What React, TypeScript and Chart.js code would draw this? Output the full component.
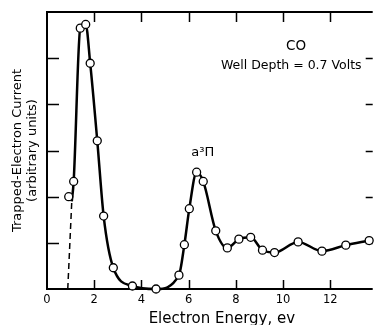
import React, { useEffect, useRef } from 'react';
import { Chart, registerables } from 'chart.js';

Chart.register(...registerables);

// Measured points (electron energy, eV) and trapped-electron current (arbitrary units)
const markerEnergy = [0.92, 1.13, 1.41, 1.64, 1.83, 2.13, 2.4, 2.81, 3.62, 4.62, 5.59, 5.82, 6.03, 6.34, 6.62, 7.15, 7.64, 8.13, 8.63, 9.13, 9.64, 10.64, 11.65, 12.66, 13.65];
const markerCurrent = [2.0, 2.33, 5.65, 5.73, 4.89, 3.21, 1.58, 0.46, 0.065, 0, 0.3, 0.96, 1.74, 2.53, 2.33, 1.26, 0.89, 1.08, 1.12, 0.84, 0.79, 1.02, 0.82, 0.95, 1.05];

// Solid fitted curve
const curveEnergy = [1.05, 1.13, 1.41, 1.64, 1.83, 2.13, 2.4, 2.81, 3.62, 4.62, 5.59, 5.82, 6.03, 6.34, 6.62, 7.15, 7.64, 8.13, 8.63, 9.13, 9.64, 10.64, 11.65, 12.66, 13.65];
const curveCurrent = [1.9, 2.33, 5.65, 5.73, 4.89, 3.21, 1.58, 0.46, 0.065, 0, 0.3, 0.96, 1.74, 2.53, 2.33, 1.26, 0.89, 1.08, 1.12, 0.84, 0.79, 1.02, 0.82, 0.95, 1.05];

// Dashed extrapolation to onset
const dashEnergy = [0.88, 1.05];
const dashCurrent = [0, 1.9];

const xTickValues = [0, 2, 4, 6, 8, 10, 12];
const yTickValues = [1, 2, 3, 4, 5];

const xTitle = 'Electron Energy, ev';
const yTitle = ['Trapped-Electron Current', '(arbitrary units)'];
const gasLabel = 'CO';
const wellLabel = 'Well Depth = 0.7 Volts';
const stateLabel = 'a³Π';

const FONT = "'DejaVu Sans', sans-serif";

const toXY = (xs: number[], ys: number[]) => xs.map((x, i) => ({ x, y: ys[i] }));

const framePlugin = {
  id: 'frame',
  beforeDatasetsDraw(chart: any) {
    const { ctx, chartArea, scales } = chart;
    const { left, right, top, bottom } = chartArea;
    ctx.save();
    ctx.strokeStyle = '#000';
    ctx.lineWidth = 2;
    ctx.beginPath();
    ctx.moveTo(right, top);
    ctx.lineTo(left, top);
    ctx.lineTo(left, bottom);
    ctx.lineTo(right, bottom);
    ctx.stroke();
    ctx.lineWidth = 1.5;
    ctx.beginPath();
    for (const v of xTickValues) {
      if (v === 0) continue;
      const px = Math.round(scales.x.getPixelForValue(v)) + 0.5;
      ctx.moveTo(px, bottom);
      ctx.lineTo(px, bottom - 9);
      ctx.moveTo(px, top);
      ctx.lineTo(px, top + 10);
    }
    for (const v of yTickValues) {
      const py = Math.round(scales.y.getPixelForValue(v)) + 0.5;
      ctx.moveTo(left, py);
      ctx.lineTo(left + 12, py);
      ctx.moveTo(right, py);
      ctx.lineTo(right - 7, py);
    }
    ctx.stroke();
    ctx.restore();
  },
  afterDraw(chart: any) {
    const { ctx, chartArea, scales } = chart;
    ctx.save();
    ctx.fillStyle = '#000';
    ctx.textAlign = 'center';
    ctx.textBaseline = 'middle';
    ctx.font = `13.5px ${FONT}`;
    ctx.fillText(gasLabel, scales.x.getPixelForValue(10.55), scales.y.getPixelForValue(5.26));
    ctx.font = `12.5px ${FONT}`;
    ctx.fillText(wellLabel, scales.x.getPixelForValue(10.35), scales.y.getPixelForValue(4.83));
    ctx.font = `13px ${FONT}`;
    ctx.fillText(stateLabel, scales.x.getPixelForValue(6.6), scales.y.getPixelForValue(2.95));
    ctx.font = `15px ${FONT}`;
    ctx.textBaseline = 'alphabetic';
    ctx.fillText(xTitle, (chartArea.left + chartArea.right) / 2 + 12, 323);
    ctx.restore();
  },
};

export default function App() {
  const ref = useRef<HTMLCanvasElement | null>(null);

  useEffect(() => {
    if (!ref.current) return;
    Chart.defaults.font.family = FONT;
    Chart.defaults.color = '#000';
    const chart = new Chart(ref.current, {
      type: 'line',
      data: {
        datasets: [
          {
            data: toXY(markerEnergy, markerCurrent),
            showLine: false,
            pointRadius: 4,
            pointBorderWidth: 1.3,
            pointBackgroundColor: '#fff',
            pointBorderColor: '#000',
            clip: false,
            order: 0,
          },
          {
            data: toXY(curveEnergy, curveCurrent),
            borderColor: '#000',
            borderWidth: 2.5,
            pointRadius: 0,
            cubicInterpolationMode: 'monotone',
            clip: false,
            order: 1,
          },
          {
            data: toXY(dashEnergy, dashCurrent),
            borderColor: '#000',
            borderWidth: 1.5,
            borderDash: [6, 4],
            pointRadius: 0,
            clip: false,
            order: 2,
          },
        ],
      } as any,
      options: {
        responsive: false,
        animation: false,
        events: [],
        layout: { padding: { top: 12, right: 0, left: 0, bottom: 0 } },
        plugins: { legend: { display: false }, tooltip: { enabled: false } },
        scales: {
          x: {
            type: 'linear',
            min: 0,
            max: 13.8,
            grid: { display: false, drawTicks: false },
            border: { display: false },
            ticks: { font: { size: 11.5 }, color: '#000', padding: 4, maxRotation: 0 },
            afterBuildTicks: (s: any) => {
              s.ticks = xTickValues.map((v) => ({ value: v }));
            },
            afterFit: (s: any) => {
              s.height = 36;
            },
          },
          y: {
            type: 'linear',
            min: 0,
            max: 6,
            grid: { display: false, drawTicks: false },
            border: { display: false },
            ticks: { display: false },
            afterBuildTicks: (s: any) => {
              s.ticks = yTickValues.map((v) => ({ value: v }));
            },
            title: {
              display: true,
              text: yTitle,
              color: '#000',
              font: { size: 13, lineHeight: 1.15 },
              padding: { top: 10, bottom: 0 },
            },
            afterFit: (s: any) => {
              s.width = 47;
            },
          },
        },
      } as any,
      plugins: [framePlugin],
    });
    return () => chart.destroy();
  }, []);

  return (
    <div style={{ position: 'fixed', left: 0, top: 0, width: 378, height: 325, background: '#fff' }}>
      <canvas ref={ref} width={378} height={325} style={{ display: 'block' }} />
    </div>
  );
}
